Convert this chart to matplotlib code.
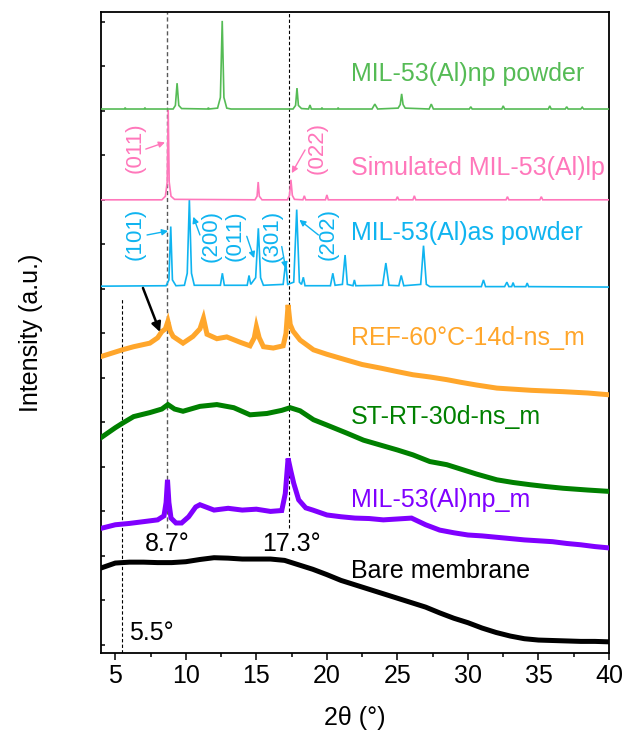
import matplotlib
matplotlib.use("Agg")
import matplotlib.pyplot as plt

plt.rcParams['font.family'] = ['Liberation Sans', 'DejaVu Sans']

# stacked traces (offsets already included)
bare_x = [4, 5, 6, 7, 8, 9, 10, 11, 12, 13, 14, 15, 16, 17, 18, 19, 20, 21, 22,
          23, 24, 25, 26, 27, 28, 29, 30, 31, 32, 33, 34, 35, 36, 37, 38, 39, 40]
bare_y = [1.73, 1.84, 1.86, 1.86, 1.85, 1.85, 1.87, 1.92, 1.96, 1.95, 1.93, 1.93,
          1.93, 1.90, 1.80, 1.70, 1.58, 1.45, 1.35, 1.25, 1.15, 1.05, 0.95, 0.85,
          0.72, 0.60, 0.50, 0.38, 0.28, 0.20, 0.14, 0.11, 0.10, 0.09, 0.08, 0.08, 0.07]

npm_x = [4, 5, 6, 7, 8, 8.45, 8.6, 8.7, 8.8, 8.95, 9.3, 9.7, 10.2, 10.7, 11, 12,
         13, 14, 15, 16, 16.8, 17.05, 17.25, 17.45, 17.65, 18, 18.5, 19, 20, 21,
         22, 23, 24, 25, 26, 27, 28, 29, 30, 31, 32, 33, 34, 35, 36, 37, 38, 39, 40]
npm_y = [2.62, 2.70, 2.73, 2.77, 2.81, 2.90, 3.20, 3.71, 3.20, 2.85, 2.74, 2.74,
         2.88, 3.10, 3.15, 3.03, 3.07, 3.03, 3.05, 3.00, 3.02, 3.40, 4.19, 3.90,
         3.63, 3.26, 3.08, 3.03, 2.92, 2.88, 2.85, 2.84, 2.81, 2.83, 2.85, 2.70,
         2.58, 2.52, 2.47, 2.45, 2.42, 2.39, 2.36, 2.34, 2.32, 2.28, 2.25, 2.21, 2.18]

st_x = [4, 5, 5.5, 6.3, 7.45, 8.3, 8.73, 9.2, 9.8, 11, 12.2, 13.4, 14.55, 15.75,
        16.8, 17.4, 18.1, 19.05, 20, 21.4, 22.6, 23.8, 25, 26.1, 27.3, 28.5, 29.7,
        30.6, 32.05, 33.2, 34.4, 35.5, 36.75, 38.5, 40]
st_y = [4.66, 4.88, 4.98, 5.13, 5.22, 5.30, 5.40, 5.30, 5.25, 5.36, 5.40, 5.33,
        5.17, 5.20, 5.27, 5.33, 5.26, 5.06, 4.94, 4.76, 4.60, 4.49, 4.38, 4.27,
        4.12, 4.05, 3.93, 3.84, 3.71, 3.65, 3.60, 3.56, 3.52, 3.48, 3.45]

ref_x = [4, 5, 5.5, 6.3, 7.45, 8, 8.3, 8.55, 8.73, 8.9, 9.1, 9.8, 10.5, 11, 11.25,
         11.5, 12.2, 12.9, 13.85, 14.55, 14.85, 15, 15.2, 15.5, 16.2, 16.9, 17.1,
         17.25, 17.4, 17.6, 18.1, 19.05, 20, 21.4, 22.5, 23.8, 25, 26.1, 27.3,
         28.5, 29.5, 30.6, 32.05, 34.5, 36.75, 38.5, 40]
ref_y = [6.48, 6.58, 6.63, 6.70, 6.78, 6.90, 7.04, 7.10, 7.27, 7.05, 6.93, 6.78,
         6.93, 7.10, 7.34, 6.98, 6.88, 6.92, 6.80, 6.72, 6.90, 7.15, 6.90, 6.70,
         6.67, 6.72, 7.00, 7.64, 7.20, 7.05, 6.85, 6.63, 6.53, 6.40, 6.30, 6.22,
         6.14, 6.07, 6.02, 5.96, 5.90, 5.84, 5.77, 5.72, 5.69, 5.66, 5.62]

as_x = [4, 8.6, 8.8, 8.93, 9.05, 9.3, 9.9, 10.1, 10.25, 10.4, 10.6, 12.45, 12.59,
        12.73, 14.35, 14.48, 14.6, 14.95, 15.14, 15.3, 15.5, 16.9, 17.08, 17.22,
        17.65, 17.86, 18.05, 18.2, 18.33, 18.45, 20.25, 20.42, 20.58, 21.1, 21.29,
        21.45, 21.85, 21.95, 22.05, 23.95, 24.18, 24.4, 25.1, 25.27, 25.45, 26.65,
        26.85, 27.05, 27.3, 30.95, 31.1, 31.25, 32.6, 32.76, 32.9, 33.1, 33.2,
        33.3, 34.1, 34.2, 34.3, 40]
as_y = [8.06, 8.07, 8.20, 9.40, 8.20, 8.07, 8.08, 8.35, 10.00, 8.35, 8.08, 8.08,
        8.35, 8.08, 8.08, 8.30, 8.10, 8.25, 9.36, 8.25, 8.08, 8.10, 8.61, 8.10,
        8.15, 9.78, 8.15, 8.10, 8.26, 8.07, 8.07, 8.35, 8.08, 8.10, 8.76, 8.10,
        8.07, 8.20, 8.07, 8.08, 8.58, 8.08, 8.07, 8.30, 8.07, 8.10, 8.97, 8.10,
        8.05, 8.05, 8.20, 8.05, 8.05, 8.15, 8.05, 8.05, 8.14, 8.05, 8.05, 8.13,
        8.05, 8.04]

sim_x = [4, 8.3, 8.55, 8.68, 8.75, 8.82, 8.95, 9.2, 14.9, 15.05, 15.13, 15.21,
         15.4, 17.2, 17.35, 17.45, 17.55, 17.7, 18.3, 18.4, 18.5, 19.9, 20, 20.1,
         24.9, 25, 25.1, 26.1, 26.2, 26.3, 32.7, 32.8, 32.9, 35.1, 35.2, 35.3, 40]
sim_y = [10.0, 10.0, 10.08, 10.4, 12.02, 10.4, 10.08, 10.01, 10.0, 10.08, 10.4,
         10.08, 10.0, 10.0, 10.1, 10.45, 10.1, 10.01, 10.0, 10.09, 10.0, 10.0,
         10.11, 10.0, 10.0, 10.07, 10.0, 10.0, 10.09, 10.0, 10.0, 10.07, 10.0,
         10.0, 10.07, 10.0, 10.0]

np_x = [4, 5.65, 5.7, 5.75, 7.05, 7.1, 7.15, 9.1, 9.26, 9.38, 9.5, 9.7, 11.55,
        11.6, 11.65, 12.25, 12.45, 12.58, 12.7, 12.9, 13.2, 17.6, 17.78, 17.88,
        17.98, 18.2, 18.7, 18.8, 18.9, 19.6, 19.65, 19.7, 20.75, 20.8, 20.85,
        23.2, 23.4, 23.6, 25.05, 25.2, 25.3, 25.4, 25.55, 27.25, 27.4, 27.55,
        30.1, 30.2, 30.3, 32.4, 32.5, 32.6, 35.7, 35.8, 35.9, 36.9, 37, 37.1,
        38, 38.1, 38.2, 40]
np_y = [12.04, 12.04, 12.07, 12.04, 12.04, 12.07, 12.04, 12.04, 12.12, 12.62,
        12.12, 12.05, 12.04, 12.07, 12.04, 12.06, 12.30, 14.02, 12.30, 12.06,
        12.04, 12.04, 12.12, 12.51, 12.12, 12.05, 12.04, 12.13, 12.04, 12.04,
        12.07, 12.04, 12.04, 12.07, 12.04, 12.04, 12.15, 12.04, 12.06, 12.14,
        12.38, 12.14, 12.06, 12.04, 12.15, 12.04, 12.04, 12.09, 12.04, 12.04,
        12.11, 12.04, 12.04, 12.11, 12.04, 12.04, 12.09, 12.04, 12.04, 12.08,
        12.04, 12.04]

names = ["Bare membrane", "MIL-53(Al)np_m", "ST-RT-30d-ns_m", "REF-60\u00b0C-14d-ns_m",
         "MIL-53(Al)as powder", "Simulated MIL-53(Al)lp", "MIL-53(Al)np powder"]
colors = ["black", "#8000FF", "#008000", "#FFA62B", "#0FB4F0", "#FF77BB", "#55BB55"]
label_y = [1.51, 3.09, 4.96, 6.74, 9.10, 10.56, 12.66]

# hkl labels: (text, x, y, arrow start, arrow end)
sim_hkl = [("(011)", 6.4, 11.17, (7.16, 11.14), (8.52, 11.29)),
           ("(022)", 19.29, 11.17, (18.45, 11.12), (17.51, 10.6))]
as_hkl = [("(101)", 6.4, 9.24, (7.25, 9.21), (8.74, 9.30)),
          ("(200)", 11.78, 9.19, (11.0, 9.21), (10.53, 9.62)),
          ("(011)", 13.49, 9.19, (14.32, 9.18), (14.84, 8.69)),
          ("(301)", 16.09, 9.19, (16.8, 8.95), (17.08, 8.46)),
          ("(202)", 20.09, 9.24, (19.4, 9.21), (18.05, 9.55))]

fig = plt.figure(figsize=(6.27, 7.34), dpi=100)
ax = fig.add_axes([0.1614, 0.1104, 0.8099, 0.8733])

traces = [(bare_x, bare_y), (npm_x, npm_y), (st_x, st_y), (ref_x, ref_y),
          (as_x, as_y), (sim_x, sim_y), (np_x, np_y)]
for i, (xs, ys) in enumerate(traces):
    lw = 3.6 if i < 4 else 1.2
    ax.plot(xs, ys, color=colors[i], lw=lw, solid_joinstyle='miter', zorder=3)
    ax.text(21.7, label_y[i], names[i], color=colors[i], fontsize=18, va='baseline')

# reference lines
ax.vlines(5.5, -0.18, 7.8, colors='black', linestyles=(0, (3, 2)), lw=0.8)
ax.vlines(8.7, 2.63, 14.22, colors='0.35', linestyles=(0, (3, 2)), lw=1.0)
ax.vlines(17.3, 2.63, 14.22, colors='black', linestyles=(0, (3, 2)), lw=0.8)
ax.text(7.1, 2.10, "8.7\u00b0", fontsize=18)
ax.text(15.4, 2.10, "17.3\u00b0", fontsize=18)
ax.text(5.97, 0.11, "5.5\u00b0", fontsize=18)

for hkl, c in [(sim_hkl, colors[5]), (as_hkl, colors[4])]:
    for txt, tx, ty, p0, p1 in hkl:
        ax.text(tx, ty, txt, color=c, fontsize=16, rotation=90, ha='center', va='center')
        ax.annotate("", xy=p1, xytext=p0,
                    arrowprops=dict(arrowstyle='-|>', color=c, lw=1.0,
                                    mutation_scale=9, shrinkA=0, shrinkB=0))

ax.annotate("", xy=(8.17, 7.03), xytext=(6.96, 8.02),
            arrowprops=dict(arrowstyle='-|>', color='black', lw=1.8,
                            mutation_scale=14, shrinkA=0, shrinkB=0))

ax.set_xlim(4, 40)
ax.set_ylim(-0.18, 14.22)
ax.set_xticks(range(5, 41, 5))
ax.set_xticks([7.5, 12.5, 17.5, 22.5, 27.5, 32.5, 37.5], minor=True)
ax.set_yticks(range(0, 15))
ax.tick_params(axis='x', which='major', direction='out', length=5, width=1.1,
               labelsize=18, pad=3)
ax.tick_params(axis='x', which='minor', direction='out', length=3, width=1.1)
ax.tick_params(axis='y', direction='in', length=3, width=1.1, labelleft=False)
for s in ax.spines.values():
    s.set_linewidth(1.3)

ax.set_xlabel("2\u03b8 (\u00b0)", fontsize=18)
ax.set_ylabel("Intensity (a.u.)", fontsize=18)
ax.xaxis.set_label_coords(0.5, -0.083)
ax.yaxis.set_label_coords(-0.115, 0.5)

fig.savefig("out.png", dpi=100)
